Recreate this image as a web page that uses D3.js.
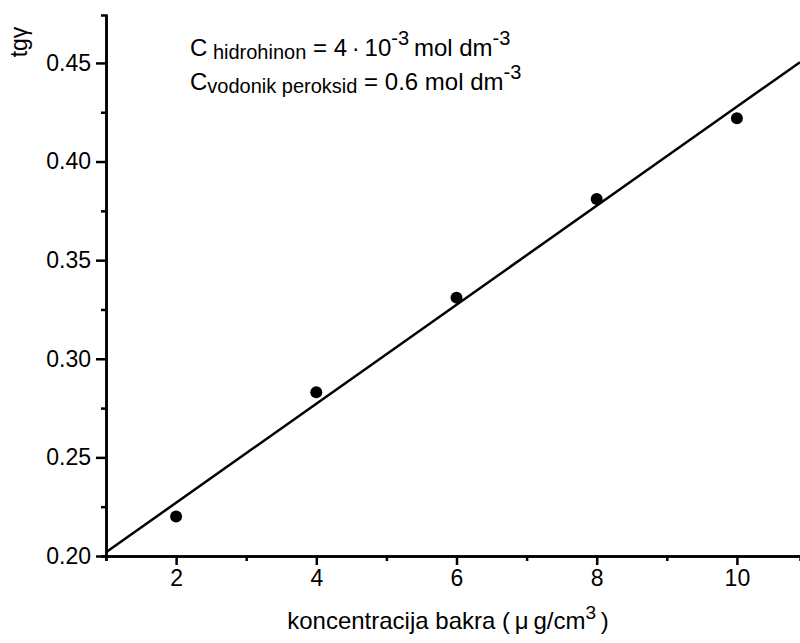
<!DOCTYPE html>
<html>
<head>
<meta charset="utf-8">
<script src="https://cdn.jsdelivr.net/npm/d3@7"></script>
<style>
  body { margin: 0; background: #fff; }
  svg { font-family: "Liberation Sans", Arial, sans-serif; }
  .axis path, .axis line { stroke: #000; stroke-width: 2.5; }
  .axis text { font-size: 23px; fill: #000; }
</style>
</head>
<body>
<svg id="chart" width="800" height="643"></svg>
<script>
var conc = [2, 4, 6, 8, 10];
var tg = [0.220, 0.283, 0.331, 0.381, 0.422];
var xTicks = [2, 4, 6, 8, 10];
var xMinor = [1, 3, 5, 7, 9];
var yTicks = [0.20, 0.25, 0.30, 0.35, 0.40, 0.45];
var yMinor = [0.225, 0.275, 0.325, 0.375, 0.425];

var svg = d3.select("#chart"),
    margin = {top: 15, right: 0, bottom: 87, left: 106},
    width = +svg.attr("width") - margin.left - margin.right,
    height = +svg.attr("height") - margin.top - margin.bottom,
    g = svg.append("g").attr("transform", "translate(" + margin.left + "," + margin.top + ")");

var x = d3.scaleLinear().domain([1, 10.9]).range([0, width]);
var y = d3.scaleLinear().domain([0.20, 0.4743]).range([height, 0]);

// minor ticks first, then major ticks with labels
g.append("g")
    .attr("class", "axis")
    .attr("transform", "translate(0," + height + ")")
    .call(d3.axisBottom(x).tickValues(xMinor).tickSize(5).tickFormat(""));
g.append("g")
    .attr("class", "axis axis--x")
    .attr("transform", "translate(0," + height + ")")
    .call(d3.axisBottom(x).tickValues(xTicks).tickSize(9).tickSizeOuter(0).tickPadding(5).tickFormat(d3.format("d")));

g.append("g")
    .attr("class", "axis")
    .call(d3.axisLeft(y).tickValues(yMinor).tickSize(5).tickFormat(""));
g.append("g")
    .attr("class", "axis axis--y")
    .call(d3.axisLeft(y).tickValues(yTicks).tickSize(10).tickSizeOuter(0).tickPadding(5).tickFormat(d3.format(".2f")));

// linear fit through the points
var mx = d3.mean(conc), my = d3.mean(tg);
var slope = d3.sum(conc, function(d, i) { return (d - mx) * (tg[i] - my); }) /
            d3.sum(conc, function(d) { return (d - mx) * (d - mx); });
var icpt = my - slope * mx;
var dom = x.domain();

g.append("path")
    .datum(dom)
    .attr("fill", "none")
    .attr("stroke", "#000")
    .attr("stroke-width", 2.5)
    .attr("d", d3.line()
        .x(function(d) { return x(d); })
        .y(function(d) { return y(icpt + slope * d); }));

g.selectAll(".dot")
    .data(conc)
    .enter().append("circle")
    .attr("class", "dot")
    .attr("cx", function(d) { return x(d); })
    .attr("cy", function(d, i) { return y(tg[i]); })
    .attr("r", 6)
    .attr("fill", "#000");

// axis titles
svg.append("text")
    .attr("transform", "translate(27,42) rotate(-90)")
    .attr("text-anchor", "middle")
    .style("font-size", "23px")
    .text("tg\u03b3");

var xl = svg.append("text")
    .attr("x", 448)
    .attr("y", 629)
    .attr("text-anchor", "middle")
    .style("font-size", "24px");
xl.append("tspan").text("koncentracija bakra (\u2009\u03bc\u2009g/cm");
xl.append("tspan").attr("dy", -10).style("font-size", "19px").text("3");
xl.append("tspan").attr("dy", 10).text("\u2009)");

// annotation
var a1 = svg.append("text").attr("x", 190).attr("y", 56).style("font-size", "24px");
a1.append("tspan").text("C");
a1.append("tspan").attr("dy", 3).style("font-size", "20px").text(" hidrohinon");
a1.append("tspan").attr("dy", -3).text(" = 4\u2009\u00b7\u200910");
a1.append("tspan").attr("dy", -11).style("font-size", "20px").text("-3");
a1.append("tspan").attr("dy", 11).text("\u2009mol dm");
a1.append("tspan").attr("dy", -11).style("font-size", "20px").text("-3");

var a2 = svg.append("text").attr("x", 190).attr("y", 90).style("font-size", "24px");
a2.append("tspan").text("C");
a2.append("tspan").attr("dy", 3).style("font-size", "20px").text("vodonik peroksid");
a2.append("tspan").attr("dy", -3).text(" = 0.6 mol dm");
a2.append("tspan").attr("dy", -11).style("font-size", "20px").text("-3");
</script>
</body>
</html>
